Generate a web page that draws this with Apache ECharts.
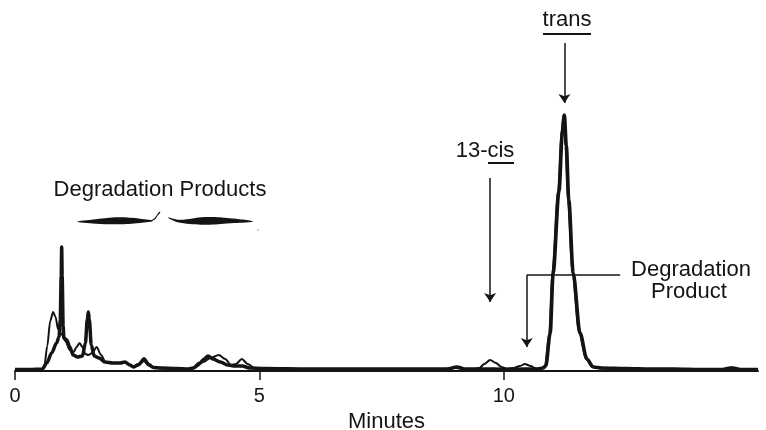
<!DOCTYPE html>
<html>
<head>
<meta charset="utf-8">
<script src="https://cdn.jsdelivr.net/npm/echarts@6/dist/echarts.min.js"></script>
<style>
html,body{margin:0;padding:0;background:#fff;}
#chart{width:766px;height:430px;}
</style>
</head>
<body>
<div id="chart"></div>
<script>
// ---- data (retention time in minutes, detector response in arbitrary units) ----
var tickValues = [0, 5, 10];

var thinTimes = [0, 0.3, 0.55, 0.6, 0.66, 0.72, 0.78, 0.83, 0.88, 0.95, 1.03, 1.12, 1.2, 1.26, 1.32, 1.38, 1.44, 1.5, 1.58, 1.67, 1.76, 1.85, 2.0, 2.15, 2.25, 2.35, 2.42, 2.52, 2.64, 2.75, 2.85, 3.0, 3.3, 3.55, 3.7, 3.85, 4.0, 4.17, 4.3, 4.42, 4.52, 4.64, 4.76, 4.9, 5.1, 6, 7, 8, 8.8, 9.0, 9.2, 9.4, 9.5, 9.6, 9.72, 9.84, 9.95, 10.05, 10.2, 10.33, 10.43, 10.55, 10.65, 10.75, 10.84, 10.93, 10.99, 11.11, 11.18, 11.22, 11.26, 11.31, 11.4, 11.54, 11.68, 11.81, 12.0, 12.5, 13, 13.5, 14, 14.45, 14.55, 14.66, 14.77, 14.85, 15.2];
var thinValues = [1.5, 1.5, 1.5, 5, 25, 50, 59, 54, 42, 37, 30, 21, 19, 24, 28, 24, 17, 16, 18, 24, 16, 9, 8, 8, 9, 6, 4, 7, 13, 7, 3, 2.5, 2, 2, 4, 9, 13, 16, 12, 6, 7, 12, 7, 3, 2.5, 2, 2, 2, 2, 3, 2, 2, 3, 7, 11, 8, 4, 2.5, 3, 5, 7, 5, 2.5, 2, 5, 38, 98, 180, 240, 256, 225, 171, 98, 38, 12, 4, 2.5, 2, 2, 2, 1.5, 1.5, 3, 4, 3, 1.5, 1.5];

var thickTimes = [0, 0.3, 0.56, 0.65, 0.75, 0.85, 0.9, 0.925, 0.945, 0.955, 0.965, 0.985, 1.0, 1.06, 1.12, 1.19, 1.28, 1.38, 1.44, 1.48, 1.5, 1.52, 1.56, 1.62, 1.72, 1.84, 2.0, 2.15, 2.25, 2.35, 2.42, 2.52, 2.64, 2.74, 2.83, 3.0, 3.3, 3.55, 3.65, 3.78, 3.87, 3.95, 4.05, 4.2, 4.35, 4.5, 4.65, 4.8, 5.1, 6, 7, 8, 8.85, 9.04, 9.2, 9.5, 9.8, 10.1, 10.4, 10.7, 10.8, 10.86, 10.95, 11.01, 11.13, 11.2, 11.24, 11.28, 11.33, 11.42, 11.56, 11.7, 11.83, 12.0, 12.5, 13, 13.5, 14, 14.5, 15.2];
var thickValues = [1.5, 1.5, 2, 8, 18, 28, 34, 50, 95, 124, 95, 45, 33, 31, 24, 16, 14, 15, 28, 52, 59, 52, 26, 15, 13, 9, 8, 8, 9, 6, 4, 6, 11, 6, 3.5, 3, 2.5, 2, 3, 8, 12, 15, 12, 9, 6, 5, 5, 3, 2.5, 2, 2, 2, 2, 4, 2, 2, 2, 1.5, 2, 2, 3, 5, 38, 98, 180, 240, 256, 225, 171, 98, 38, 12, 4, 3, 2.5, 2, 2, 1.5, 1.5, 1.5];

// annotation anchors (minutes, response)
var transArrow = [11.24, 328, 268];
var cisArrow = [9.72, 193, 69];
var degArrow = [10.47, 96, 24, 12.38];

function zip(a, b) { return a.map(function (t, i) { return [t, b[i]]; }); }

var FONT = '"Liberation Sans", Arial, Helvetica, sans-serif';
var INK = '#141414';

var chart = echarts.init(document.getElementById('chart'), null, { renderer: 'canvas' });

function txt(s, x, y) {
  return {
    type: 'text', x: x, y: y, silent: true,
    style: { text: s, font: '22px ' + FONT, fill: INK, textAlign: 'center', textVerticalAlign: 'middle', align: 'center', verticalAlign: 'middle' }
  };
}
function seg(x1, y1, x2, y2, w) {
  return { type: 'line', silent: true, shape: { x1: x1, y1: y1, x2: x2, y2: y2 }, style: { stroke: INK, lineWidth: w } };
}

var option = {
  animation: false,
  backgroundColor: '#fff',
  grid: { left: 15, right: 8, top: 0, bottom: 59, containLabel: false, outerBoundsMode: 'none' },
  xAxis: {
    type: 'value', min: 0, max: 15.2,
    name: 'Minutes', nameLocation: 'middle', nameGap: 40,
    nameTextStyle: { fontSize: 22, color: INK, fontFamily: FONT },
    axisLine: { show: true, onZero: false, lineStyle: { color: INK, width: 2 } },
    axisTick: { show: true, customValues: tickValues, length: 9, lineStyle: { color: INK, width: 1.5 } },
    axisLabel: { show: true, customValues: tickValues, fontSize: 20, margin: 15, color: INK, fontFamily: FONT },
    splitLine: { show: false }
  },
  yAxis: { type: 'value', min: 0, max: 371, show: false, splitLine: { show: false } },
  series: [
    {
      name: 'thin', type: 'line', data: zip(thinTimes, thinValues),
      showSymbol: false, smooth: 0.3, smoothMonotone: 'x', z: 3,
      lineStyle: { color: INK, width: 2 }, silent: true
    },
    {
      name: 'thick', type: 'line', data: zip(thickTimes, thickValues),
      showSymbol: false, smooth: 0.3, smoothMonotone: 'x', z: 2,
      lineStyle: { color: INK, width: 3.5 }, silent: true,
      markLine: {
        silent: true, symbol: ['none', 'arrow'], symbolSize: 9,
        label: { show: false },
        lineStyle: { color: INK, width: 1.5, type: 'solid' },
        emphasis: { disabled: true },
        data: [
          [{ coord: [transArrow[0], transArrow[1]] }, { coord: [transArrow[0], transArrow[2]] }],
          [{ coord: [cisArrow[0], cisArrow[1]] }, { coord: [cisArrow[0], cisArrow[2]] }],
          [{ coord: [degArrow[0], degArrow[1]] }, { coord: [degArrow[0], degArrow[2]] }],
          [{ coord: [degArrow[0], degArrow[1]], symbol: 'none' }, { coord: [degArrow[3], degArrow[1]], symbol: 'none' }]
        ]
      }
    }
  ]
};
chart.setOption(option);

// text annotations and brace
var g = [];
g.push(txt('trans', 567, 20));
g.push(seg(543, 34, 591, 34, 2));
g.push(txt('13-cis', 485, 151));
g.push(seg(488, 163, 514, 163, 2));
g.push(txt('Degradation Products', 160, 190));
g.push(txt('Degradation', 691, 270));
g.push(txt('Product', 689, 292));
// brace (left lens, tip, right lens)
g.push({ type: 'polygon', silent: true, shape: { smooth: 0.4, points: [[77, 221.8], [96, 219.2], [118, 217.3], [140, 218.7], [153, 220.8], [140, 223], [118, 224.3], [96, 223.7]] }, style: { fill: INK } });
g.push({ type: 'polyline', silent: true, shape: { smooth: 0.5, points: [[150, 221], [154.5, 219], [157.5, 215], [160, 212]] }, style: { stroke: INK, lineWidth: 1.2, fill: null } });
g.push({ type: 'polygon', silent: true, shape: { smooth: 0.4, points: [[168, 217.5], [180, 219.8], [205, 217], [230, 218.2], [253, 221.5], [230, 223.3], [205, 224.8], [180, 222.8], [172, 220]] }, style: { fill: INK } });
g.push({ type: 'circle', silent: true, shape: { cx: 258, cy: 230, r: 0.8 }, style: { fill: '#888' } });
chart.setOption({ graphic: g });
</script>
</body>
</html>
